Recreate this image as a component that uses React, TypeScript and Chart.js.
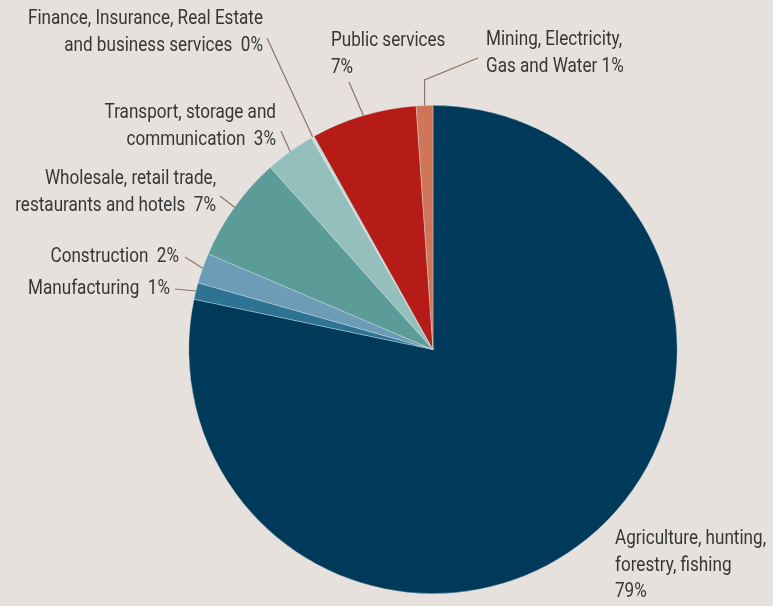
import React, { useEffect, useRef } from "react";
import { Chart, registerables } from "chart.js";

Chart.register(...registerables);

const categories = [
  "Agriculture, hunting, forestry, fishing",
  "Manufacturing",
  "Construction",
  "Wholesale, retail trade, restaurants and hotels",
  "Transport, storage and communication",
  "Finance, Insurance, Real Estate and business services",
  "Public services",
  "Mining, Electricity, Gas and Water",
];
const shares = [78.3, 1.1, 2.0, 7.0, 3.3, 0.2, 7.0, 1.1];
const sliceColors = [
  "#003a5a",
  "#2e7394",
  "#6c9cb7",
  "#5b9c98",
  "#95bfbc",
  "#c4dedc",
  "#b51c17",
  "#cf7659",
];
// label text lines per slice
const labelLines = [
  ["Agriculture, hunting,", "forestry, fishing", "79%"],
  ["Manufacturing  1%"],
  ["Construction  2%"],
  ["Wholesale, retail trade,", "restaurants and hotels  7%"],
  ["Transport, storage and", "communication  3%"],
  ["Finance, Insurance, Real Estate", "and business services  0%"],
  ["Public services", "7%"],
  ["Mining, Electricity,", "Gas and Water 1%"],
];

// label layout (text anchor, alignment, leader start)
const labelLayout = [
  { x: 615, y: 539, align: "left", lead: null, elbowY: null },
  { x: 170, y: 289, align: "right", lead: [175, 289], elbowY: null },
  { x: 179, y: 257, align: "right", lead: [185, 257], elbowY: null },
  { x: 216, y: 179, align: "right", lead: [220, 196], elbowY: null },
  { x: 276, y: 113, align: "right", lead: [281, 131], elbowY: null },
  { x: 263, y: 19, align: "right", lead: [267, 38], elbowY: null },
  { x: 331, y: 41, align: "left", lead: [349, 82], elbowY: null },
  { x: 486, y: 40, align: "left", lead: [478, 58], elbowY: 80 },
];

const FONT = '21px Roboto, "Liberation Sans", sans-serif';
const LINE_H = 26.5;
const REF_TEXT = "Finance, Insurance, Real Estate";
const REF_WIDTH = 235;

const labelPlugin = {
  id: "pieLabels",
  afterDraw(chart: any) {
    const ctx = chart.ctx;
    const meta = chart.getDatasetMeta(0);
    ctx.save();
    ctx.font = FONT;
    const sx = REF_WIDTH / ctx.measureText(REF_TEXT).width;
    ctx.textBaseline = "middle";
    ctx.fillStyle = "#363636";
    labelLayout.forEach((lay, i) => {
      const lines = labelLines[i];
      ctx.textAlign = lay.align;
      lines.forEach((t, j) => {
        ctx.save();
        ctx.translate(lay.x, lay.y + j * LINE_H);
        ctx.scale(sx, 1);
        ctx.fillText(t, 0, 0);
        ctx.restore();
      });
      if (lay.lead) {
        const arc = meta.data[i];
        const p = arc.getProps(["x", "y", "startAngle", "endAngle", "outerRadius"], true);
        const mid = (p.startAngle + p.endAngle) / 2;
        const ex = p.x + Math.cos(mid) * p.outerRadius;
        const ey = p.y + Math.sin(mid) * p.outerRadius;
        ctx.strokeStyle = "#8c7468";
        ctx.lineWidth = 1.2;
        ctx.beginPath();
        ctx.moveTo(lay.lead[0], lay.lead[1]);
        if (lay.elbowY !== null) {
          ctx.lineTo(ex, lay.elbowY);
        }
        ctx.lineTo(ex, ey);
        ctx.stroke();
      }
    });
    ctx.restore();
  },
};

const bgPlugin = {
  id: "bg",
  beforeDraw(chart: any) {
    const ctx = chart.ctx;
    ctx.save();
    ctx.fillStyle = "#e6e1dd";
    ctx.fillRect(0, 0, chart.width, chart.height);
    ctx.restore();
  },
};

export default function App() {
  const ref = useRef<HTMLCanvasElement | null>(null);
  useEffect(() => {
    document.body.style.margin = "0";
    const chart = new Chart(ref.current as HTMLCanvasElement, {
      type: "pie",
      data: {
        labels: categories,
        datasets: [
          {
            data: shares,
            backgroundColor: sliceColors,
            borderWidth: 0.6,
            borderColor: "rgba(220,235,235,0.6)",
          },
        ],
      },
      options: {
        animation: false,
        responsive: false,
        layout: { padding: { left: 188, right: 95, top: 105, bottom: 12 } },
        plugins: {
          legend: { display: false },
          tooltip: { enabled: false },
        },
      },
      plugins: [bgPlugin, labelPlugin],
    });
    return () => chart.destroy();
  }, []);
  return (
    <div style={{ width: 773, height: 606, background: "#e6e1dd" }}>
      <canvas ref={ref} width={773} height={606} />
    </div>
  );
}
